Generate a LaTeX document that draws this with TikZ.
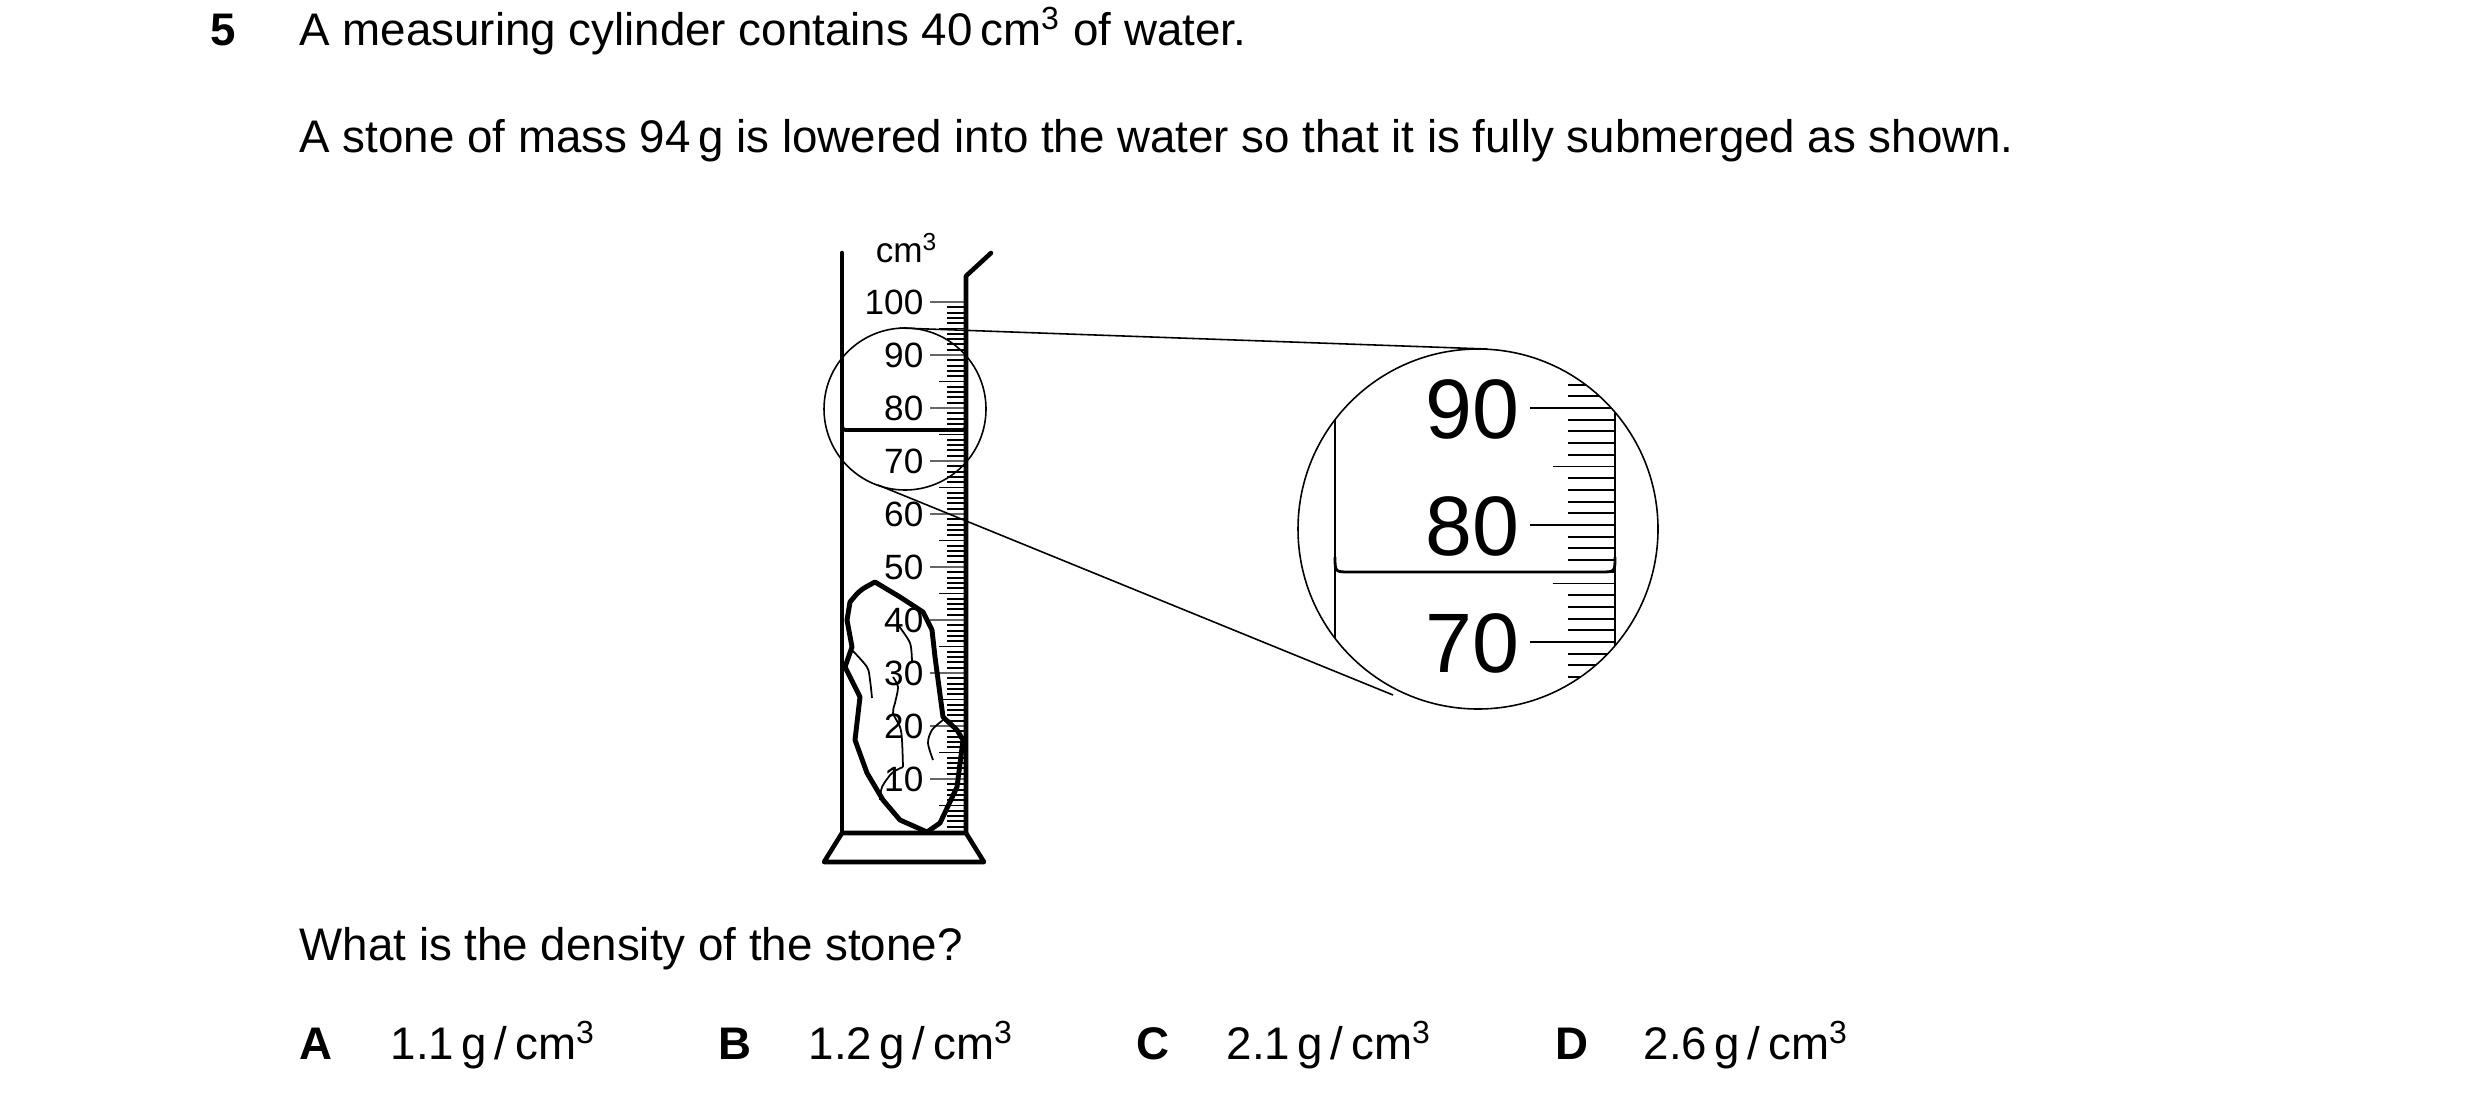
\documentclass[tikz,border=0pt]{standalone}
\usepackage{fontspec}
\setmainfont{Liberation Sans}
\begin{document}
\begin{tikzpicture}[x=0.1mm,y=-0.1mm,
  body/.style={anchor=base west,inner sep=0pt,font=\fontsize{13}{15}\selectfont},
  bold/.style={body,font=\fontsize{13}{15}\selectfont\bfseries},
  lab/.style={anchor=base east,inner sep=0pt,font=\fontsize{10}{12}\selectfont},
  biglab/.style={anchor=base east,inner sep=0pt,font=\fontsize{24}{28}\selectfont},
  wall/.style={line width=1.3pt,line cap=round,line join=round},
  tick/.style={line width=0.55pt},
  thin/.style={line width=0.45pt},
  stone/.style={line width=1.4pt,line join=round},
  crack/.style={line width=0.5pt}]
\useasboundingbox (0,0) rectangle (2480,1107);
% texts
\node[bold] (q) at (210,45) {5};
\node[body] (t1) at (299,45) {A measuring cylinder contains 40\,cm\textsuperscript{3} of water.};
\node[body] (t2) at (299,152) {A stone of mass 94\,g is lowered into the water so that it is fully submerged as shown.};
\node[body] (t3) at (299,960) {What is the density of the stone?};
\node[bold] (oA) at (299,1059) {A};
\node[body] (vA) at (390,1059) {1.1\,g\,/\,cm\textsuperscript{3}};
\node[bold] (oB) at (718,1059) {B};
\node[body] (vB) at (808,1059) {1.2\,g\,/\,cm\textsuperscript{3}};
\node[bold] (oC) at (1136,1059) {C};
\node[body] (vC) at (1226,1059) {2.1\,g\,/\,cm\textsuperscript{3}};
\node[bold] (oD) at (1555,1059) {D};
\node[body] (vD) at (1643,1059) {2.6\,g\,/\,cm\textsuperscript{3}};
% cylinder ticks
\foreach \v in {1,...,99}{
  \pgfmathsetmacro{\yy}{302+(100-\v)*5.3}
  \pgfmathtruncatemacro{\mten}{mod(\v,10)}
  \pgfmathtruncatemacro{\mfive}{mod(\v,5)}
  \ifnum\mten=0 \draw[tick,black!60] (930,\yy) -- (966,\yy);
  \else\ifnum\mfive=0 \draw[tick] (939,\yy) -- (966,\yy);
  \else \draw[tick] (947,\yy) -- (966,\yy); \fi\fi
}
\draw[tick,black!60] (930,302) -- (966,302);
\foreach \v in {10,20,...,100}{
  \pgfmathsetmacro{\yy}{302+(100-\v)*5.3+12}
  \node[lab] at (924,\yy) {\v};
}
\node[inner sep=0pt,font=\fontsize{10}{12}\selectfont] (cmu) at (907,248) {cm\textsuperscript{3}};
% cylinder
\draw[wall] (842,253) -- (842,833);
\draw[wall] (991,253) -- (966,276) -- (966,833);
\draw[wall] (842,833) -- (966,833) -- (984,862) -- (824,862) -- cycle;
\draw[wall,line width=1.1pt] (842,424) .. controls (842,430) .. (850,430) -- (958,430) .. controls (966,430) .. (966,424);
% stone
\draw[stone] (875,582) .. controls (860,590) .. (850,602) -- (847,620) -- (852,647) -- (845,667) -- (860,697) -- (855,740) -- (867,773) -- (883,800) -- (900,820) -- (927,832) -- (940,823) -- (957,787) -- (963,740) -- (957,730) -- (943,717) -- (935,657) -- (932,630) -- (923,612) -- (900,597) -- cycle;
\draw[crack] plot[smooth] coordinates {(852,650) (867,667) (870,680) (872,698)};
\draw[crack] plot[smooth] coordinates {(898,625) (910,643) (912,663)};
\draw[crack] plot[smooth] coordinates {(893,677) (898,687) (895,703) (893,713) (900,727) (902,740) (903,767)};
\draw[crack] plot[smooth] coordinates {(903,767) (892,773) (882,787) (880,800)};
\draw[crack] plot[smooth] coordinates {(943,720) (932,730) (928,743) (933,760)};
% magnifier
\coordinate (sc) at (905,409);
\coordinate (bc) at (1478,529);
\draw[thin] (sc) circle (81);
\draw[thin] (bc) circle (180);
\coordinate (s1) at (900,328);
\coordinate (b1) at (1487,349);
\coordinate (s2) at (878,485);
\coordinate (b2) at (1393,695);
\draw[thin] (s1) -- (b1);
\draw[thin] (s2) -- (b2);
\begin{scope}
\clip (bc) circle (180);
\foreach \v in {60,...,99}{
  \pgfmathsetmacro{\yy}{525+(80-\v)*11.7}
  \pgfmathtruncatemacro{\mten}{mod(\v,10)}
  \pgfmathtruncatemacro{\mfive}{mod(\v,5)}
  \ifnum\mten=0 \draw[tick] (1530,\yy) -- (1615,\yy);
  \else\ifnum\mfive=0 \draw[tick] (1553,\yy) -- (1615,\yy);
  \else \draw[tick] (1568,\yy) -- (1615,\yy); \fi\fi
}
\draw[line width=0.8pt] (1335,300) -- (1335,760);
\draw[line width=0.8pt] (1615,300) -- (1615,760);
\draw[line width=0.8pt] (1335,557) .. controls (1335,572) .. (1350,572) -- (1600,572) .. controls (1615,572) .. (1615,557);
\end{scope}
\node[biglab] at (1520,438) {90};
\node[biglab] at (1520,555) {80};
\node[biglab] at (1520,672) {70};
\end{tikzpicture}
\end{document}
